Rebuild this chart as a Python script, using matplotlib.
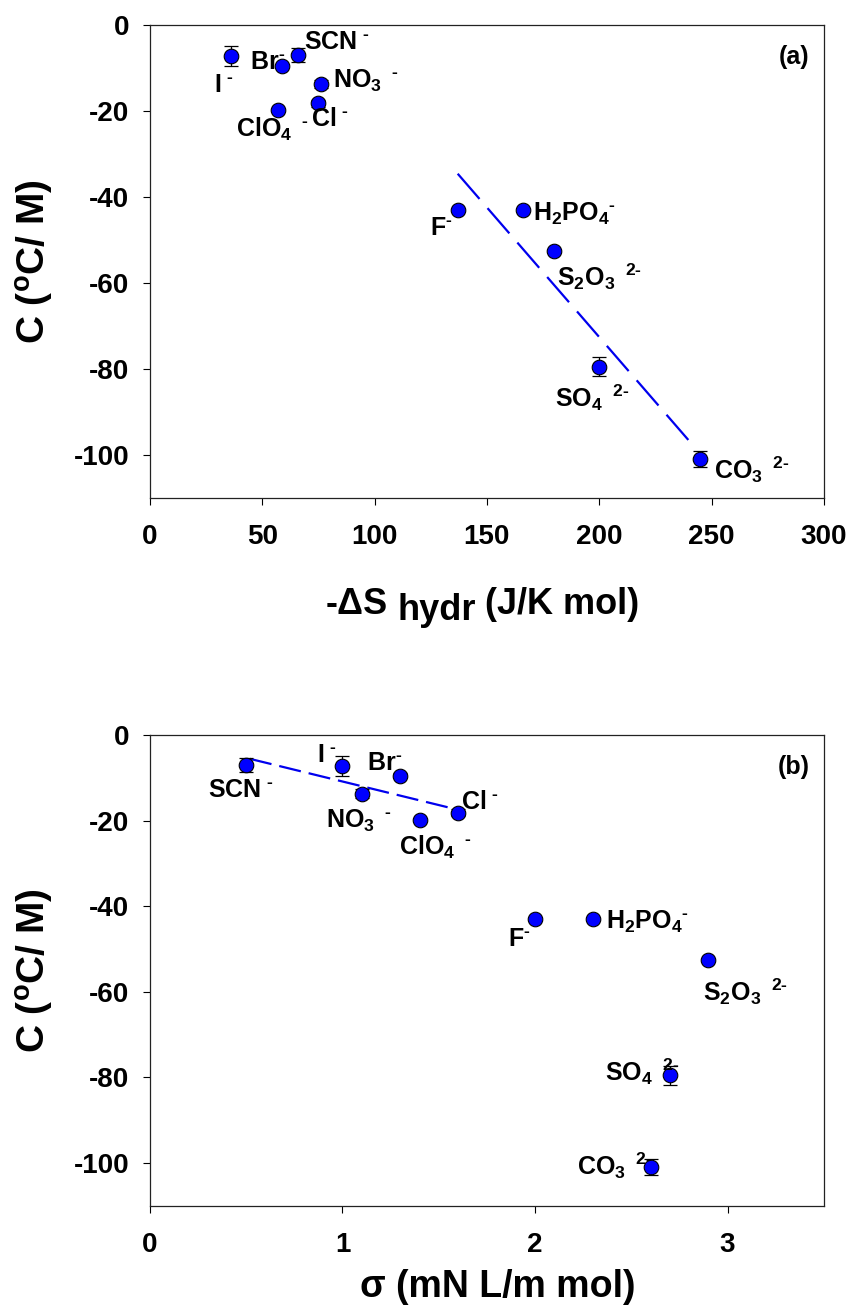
import matplotlib
matplotlib.use("Agg")
import matplotlib.pyplot as plt

plt.rcParams['font.family'] = ['Liberation Sans', 'DejaVu Sans']
plt.rcParams['font.weight'] = 'bold'
plt.rcParams['axes.labelweight'] = 'bold'
plt.rcParams['axes.unicode_minus'] = False
plt.rcParams['mathtext.fontset'] = 'custom'
plt.rcParams['mathtext.rm'] = 'Liberation Sans:bold'
plt.rcParams['mathtext.bf'] = 'Liberation Sans:bold'
plt.rcParams['mathtext.it'] = 'Liberation Sans:bold'
plt.rcParams['mathtext.default'] = 'bf'

HY = '\u2010'  # short hyphen, the mathtext "-" turns into a long minus

# ---- data ----
ions = ['I', 'Br', 'SCN', 'NO3', 'Cl', 'ClO4', 'F', 'H2PO4', 'S2O3', 'SO4', 'CO3']
C_val = [-7.3, -9.5, -7.0, -13.7, -18.2, -19.8, -43.0, -43.0, -52.5, -79.5, -100.9]
C_err = [2.3, 0.5, 1.6, 1.0, 0.8, 0.5, 0.5, 0.5, 0.5, 2.2, 1.8]
dS_hydr = [36, 59, 66, 76, 75, 57, 137, 166, 180, 200, 245]
sigma = [1.0, 1.3, 0.5, 1.1, 1.6, 1.4, 2.0, 2.3, 2.9, 2.7, 2.6]

label_tex = {
    'I': r'I$^{\ %s}$' % HY, 'Br': r'Br$^{%s}$' % HY, 'SCN': r'SCN$^{\ %s}$' % HY,
    'NO3': r'NO$_3$$^{\ \ %s}$' % HY, 'Cl': r'Cl$^{\ %s}$' % HY,
    'ClO4': r'ClO$_4$$^{\ \ %s}$' % HY, 'F': r'F$^{%s}$' % HY,
    'H2PO4': r'H$_2$PO$_4$$^{%s}$' % HY, 'S2O3': r'S$_2$O$_3$$^{\ \ 2%s}$' % HY,
    'SO4': r'SO$_4$$^{\ \ 2%s}$' % HY, 'CO3': r'CO$_3$$^{\ \ 2%s}$' % HY,
}
# label anchor (left edge, vertical centre) in data units
lab_a = {'I': (28.5, -14.0), 'Br': (44.5, -8.6), 'SCN': (68.5, -3.9),
         'NO3': (81.3, -13.0), 'Cl': (71.7, -21.8), 'ClO4': (38.3, -24.2),
         'F': (124.6, -47.2), 'H2PO4': (170.6, -44.0), 'S2O3': (181.0, -58.5),
         'SO4': (180.3, -86.7), 'CO3': (251.0, -103.5)}
lab_b = {'I': (0.866, -4.7), 'Br': (1.125, -6.6), 'SCN': (0.303, -12.8),
         'NO3': (0.914, -20.0), 'Cl': (1.613, -15.6), 'ClO4': (1.295, -26.2),
         'F': (1.861, -47.7), 'H2PO4': (2.368, -43.7), 'S2O3': (2.870, -60.0),
         'SO4': (2.363, -78.7), 'CO3': (2.216, -100.5)}

# dashed linear fits (end points)
fit_a_x = [137, 242]
fit_a_y = [-34.6, -97.9]
fit_b_x = [0.519, 1.546]
fit_b_y = [-5.6, -16.9]

fig = plt.figure(figsize=(8.53, 13.05), dpi=100)
ax_a = fig.add_axes([0.1758, 0.6184, 0.790, 0.3625])
ax_b = fig.add_axes([0.1758, 0.0759, 0.790, 0.361])


def draw_panel(ax, xs, labels, fit_x, fit_y, dashes, tag):
    ax.plot(fit_x, fit_y, color='#0000ee', lw=1.6, dashes=dashes, zorder=2)
    ax.errorbar(xs, C_val, yerr=C_err, fmt='none', ecolor='black',
                elinewidth=0.9, capsize=5, capthick=0.9, zorder=3)
    ax.plot(xs, C_val, 'o', ms=10.5, mfc='#0000ff', mec='black', mew=0.8,
            ls='none', zorder=4)
    for ion in ions:
        lx, ly = labels[ion]
        ax.text(lx, ly, label_tex[ion], fontsize=18, ha='left', va='center',
                zorder=5)
    ax.set_ylim(-110, 0)
    ax.set_yticks([0, -20, -40, -60, -80, -100])
    ax.tick_params(axis='both', which='both', direction='out', length=5,
                   width=0.8, labelsize=20, top=False, right=False)
    ax.tick_params(axis='x', pad=14)
    ax.tick_params(axis='y', pad=10)
    for sp in ax.spines.values():
        sp.set_linewidth(0.9)
        sp.set_color('#222222')
    ax.set_ylabel(r'C ($^{o}$C/ M)', fontsize=28, va='center')
    ax.yaxis.set_label_coords(-0.171, 0.5)
    ax.text(0.979, 0.932, tag, transform=ax.transAxes, fontsize=18,
            ha='right', va='center')


draw_panel(ax_a, dS_hydr, lab_a, fit_a_x, fit_a_y, (15, 5.5), '(a)')
ax_a.set_xlim(0, 300)
ax_a.set_xticks([0, 50, 100, 150, 200, 250, 300])
# x label of (a): "hydr" is a full-size, lowered subscript
t1 = ax_a.text(326 / 853, 1 - 604 / 1305, '-ΔS', transform=fig.transFigure,
               fontsize=26, ha='left', va='center')
t2 = ax_a.annotate('hydr', xy=(1, 0), xycoords=t1, xytext=(9, -7),
                   textcoords='offset pixels', fontsize=26, ha='left',
                   va='bottom', annotation_clip=False)
t3 = ax_a.annotate('(J/K mol)', xy=(1, 0), xycoords=t2, xytext=(9, 7),
                   textcoords='offset pixels', fontsize=26, ha='left',
                   va='bottom', annotation_clip=False)

draw_panel(ax_b, sigma, lab_b, fit_b_x, fit_b_y, (10, 3.6), '(b)')
ax_b.set_xlim(0, 3.5)
ax_b.set_xticks([0, 1, 2, 3])
ax_b.set_xlabel('σ (mN L/m mol)', fontsize=27, va='center')
ax_b.xaxis.set_label_coords(0.516, -0.172)

fig.savefig('out.png', dpi=100)
